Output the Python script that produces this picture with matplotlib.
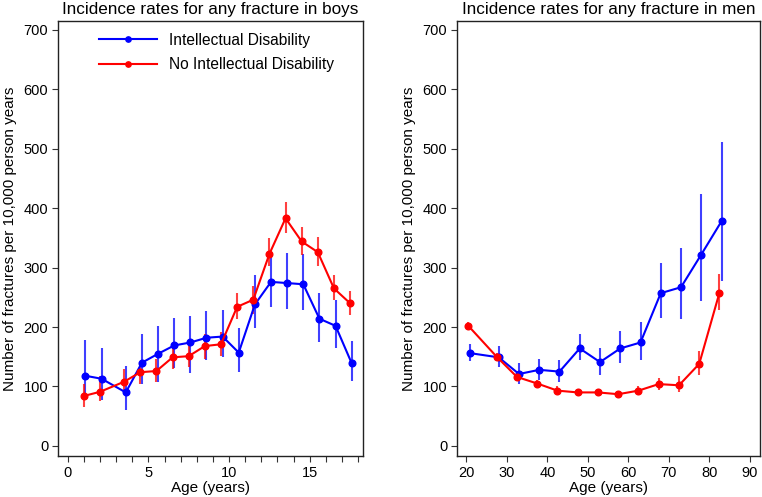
import matplotlib
matplotlib.use("Agg")
import matplotlib.pyplot as plt
import numpy as np

plt.rcParams['font.family'] = ['Liberation Sans', 'DejaVu Sans']

# Boys
boys_age_id = [1.1, 2.1, 3.6, 4.6, 5.6, 6.6, 7.6, 8.6, 9.6, 10.6, 11.6, 12.6, 13.6, 14.6, 15.6, 16.6, 17.6]
boys_id = [118, 113, 90, 140, 155, 169, 174, 182, 184, 157, 238, 276, 274, 272, 214, 202, 139]
boys_id_lo = [83, 77, 61, 104, 108, 131, 123, 145, 149, 125, 198, 233, 231, 229, 175, 164, 109]
boys_id_hi = [178, 164, 135, 188, 202, 215, 219, 227, 228, 198, 287, 324, 324, 323, 258, 246, 177]

boys_age_no = [1.0, 2.0, 3.5, 4.5, 5.5, 6.5, 7.5, 8.5, 9.5, 10.5, 11.5, 12.5, 13.5, 14.5, 15.5, 16.5, 17.5]
boys_no = [84, 91, 108, 124, 126, 149, 151, 168, 171, 234, 246, 323, 383, 344, 326, 265, 240]
boys_no_lo = [66, 75, 89, 104, 108, 130, 132, 147, 151, 213, 222, 303, 358, 321, 303, 245, 220]
boys_no_hi = [104, 117, 129, 142, 146, 167, 170, 188, 192, 258, 269, 350, 411, 369, 352, 288, 261]

# Men
men_age_id = [21, 28, 33, 38, 43, 48, 53, 58, 63, 68, 73, 78, 83]
men_id = [156, 149, 121, 128, 125, 164, 141, 164, 174, 257, 267, 322, 378]
men_id_lo = [143, 132, 105, 111, 108, 145, 120, 139, 145, 216, 214, 244, 278]
men_id_hi = [171, 168, 140, 147, 144, 188, 164, 193, 209, 308, 333, 424, 512]

men_age_no = [20.5, 27.5, 32.5, 37.5, 42.5, 47.5, 52.5, 57.5, 62.5, 67.5, 72.5, 77.5, 82.5]
men_no = [202, 150, 116, 105, 93, 90, 90, 87, 93, 104, 102, 138, 258]
men_no_lo = [196, 145, 110, 99, 87, 85, 85, 81, 85, 94, 90, 120, 229]
men_no_hi = [208, 156, 122, 111, 100, 96, 96, 93, 101, 114, 117, 159, 290]

BLUE = '#0000ff'
RED = '#ff0000'

fig = plt.figure(figsize=(7.62, 4.97), dpi=100)
ax1 = fig.add_axes([58/762, 41/497, 305/762, 435/497])
ax2 = fig.add_axes([457/762, 41/497, 303/762, 435/497])

TICK_FS = 10.5
LABEL_FS = 11

def draw(ax, ax_id, y_id, lo_id, hi_id, ax_no, y_no, lo_no, hi_no):
    ax.vlines(ax_id, lo_id, hi_id, color=BLUE, lw=1.5, alpha=0.75, zorder=2)
    ax.vlines(ax_no, lo_no, hi_no, color=RED, lw=1.5, alpha=0.75, zorder=2)
    ax.plot(ax_id, y_id, '-o', color=BLUE, lw=1.5, ms=4.8, label='Intellectual Disability', zorder=3)
    ax.plot(ax_no, y_no, '-o', color=RED, lw=1.5, ms=4.8, label='No Intellectual Disability', zorder=3)
    ax.set_ylim(-17, 715)
    ax.set_yticks([0, 100, 200, 300, 400, 500, 600, 700])
    ax.set_ylabel('Number of fractures per 10,000 person years', fontsize=LABEL_FS, labelpad=5)
    ax.set_xlabel('Age (years)', fontsize=LABEL_FS, labelpad=1)
    ax.tick_params(axis='both', labelsize=TICK_FS, direction='out', width=0.8, color='#333333')
    ax.tick_params(axis='x', which='both', length=4, pad=3)
    ax.tick_params(axis='y', length=4.5, pad=2.5)
    for s in ax.spines.values():
        s.set_linewidth(1.0)
        s.set_color('#222222')

draw(ax1, boys_age_id, boys_id, boys_id_lo, boys_id_hi, boys_age_no, boys_no, boys_no_lo, boys_no_hi)
ax1.set_xlim(-0.6, 18.3)
ax1.set_xticks([0, 5, 10, 15])
ax1.set_xticks(np.arange(0, 19), minor=True)
ax1.tick_params(axis='x', which='minor', length=4, width=0.8, color='#333333')
ax1.set_title('Incidence rates for any fracture in boys', fontsize=12.3, pad=5)
ax1.legend(loc='upper left', bbox_to_anchor=(0.09, 1.005), frameon=False, fontsize=11.2,
           handlelength=3.7, handletextpad=0.75, labelspacing=0.6, markerscale=0.8)

draw(ax2, men_age_id, men_id, men_id_lo, men_id_hi, men_age_no, men_no, men_no_lo, men_no_hi)
ax2.set_xlim(17.7, 92.5)
ax2.set_xticks([20, 30, 40, 50, 60, 70, 80, 90])
ax2.set_title('Incidence rates for any fracture in men', fontsize=12.3, pad=5)

fig.savefig('out.png', dpi=100)
